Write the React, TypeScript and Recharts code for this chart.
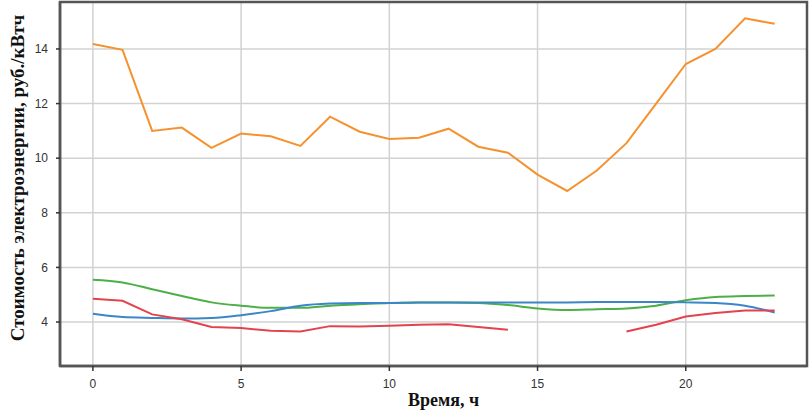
import React from "react"
import { LineChart, Line, XAxis, YAxis, CartesianGrid, ReferenceArea } from "recharts"

const hours = [0, 1, 2, 3, 4, 5, 6, 7, 8, 9, 10, 11, 12, 13, 14, 15, 16, 17, 18, 19, 20, 21, 22, 23]

const orange = [14.18, 13.97, 11.0, 11.12, 10.38, 10.9, 10.8, 10.45, 11.52, 10.97, 10.7, 10.75, 11.08, 10.42, 10.2, 9.4, 8.8, 9.55, 10.55, 12.0, 13.45, 14.0, 15.12, 14.92]
const green = [5.55, 5.45, 5.2, 4.95, 4.72, 4.6, 4.52, 4.52, 4.6, 4.65, 4.7, 4.72, 4.72, 4.7, 4.62, 4.5, 4.44, 4.47, 4.5, 4.6, 4.8, 4.92, 4.95, 4.97]
const blue = [4.3, 4.18, 4.15, 4.13, 4.15, 4.25, 4.4, 4.6, 4.68, 4.7, 4.7, 4.72, 4.72, 4.72, 4.72, 4.72, 4.72, 4.73, 4.73, 4.73, 4.72, 4.7, 4.6, 4.35]
const red = [4.85, 4.78, 4.28, 4.1, 3.82, 3.78, 3.68, 3.65, 3.85, 3.84, 3.86, 3.9, 3.92, 3.82, 3.72, null, null, null, 3.65, 3.9, 4.2, 4.33, 4.42, 4.42]

const xTicks = [0, 5, 10, 15, 20]
const yTicks = [4, 6, 8, 10, 12, 14]

const X_DOMAIN: [number, number] = [-1.11, 24.09]
const Y_DOMAIN: [number, number] = [2.39, 15.72]

const data = hours.map((h, i) => ({
  h,
  orange: orange[i],
  green: green[i],
  blue: blue[i],
  red: red[i],
}))

const tickStyle = { fontSize: 12, fill: "#333", fontFamily: "Liberation Sans, Arial, sans-serif" }
const titleFont = "Liberation Serif, Times New Roman, serif"
const frame = { stroke: "#555", strokeWidth: 2.5 }

function YTitle(props: any) {
  const vb = props.viewBox || { x: 0, y: 0, width: 60, height: 364 }
  const cx = vb.x + 17
  const cy = vb.y + vb.height / 2 - 6
  return (
    <text
      x={cx}
      y={cy}
      transform={`rotate(-90 ${cx} ${cy})`}
      textAnchor="middle"
      dominantBaseline="central"
      fontFamily={titleFont}
      fontWeight="bold"
      fontSize={19}
      fill="#111"
    >
      Стоимость электроэнергии, руб./кВтч
    </text>
  )
}

function XTitle(props: any) {
  const vb = props.viewBox || { x: 60, y: 366, width: 746, height: 50 }
  const cx = vb.x + vb.width / 2 + 10
  const cy = vb.y + 34
  return (
    <text
      x={cx}
      y={cy}
      textAnchor="middle"
      dominantBaseline="central"
      fontFamily={titleFont}
      fontWeight="bold"
      fontSize={18}
      fill="#111"
    >
      Время, ч
    </text>
  )
}

export default function App() {
  return (
    <div style={{ background: "#fff", width: 811, height: 416 }}>
      <style>{`body { margin: 0; }`}</style>
      <LineChart width={811} height={416} data={data} margin={{ top: 2, right: 4, bottom: 0, left: 0 }}>
        <CartesianGrid stroke="#d2d2d2" strokeWidth={1.5} horizontalValues={yTicks} verticalValues={xTicks} />
        <XAxis
          dataKey="h"
          type="number"
          domain={X_DOMAIN}
          ticks={xTicks}
          allowDataOverflow
          height={50}
          tickSize={5}
          tickMargin={8}
          tick={tickStyle}
          axisLine={frame}
          tickLine={{ stroke: "#333", strokeWidth: 1.5 }}
          label={<XTitle />}
        />
        <YAxis
          type="number"
          domain={Y_DOMAIN}
          ticks={yTicks}
          allowDataOverflow
          width={60}
          tickSize={4}
          tickMargin={8}
          tick={tickStyle}
          axisLine={frame}
          tickLine={{ stroke: "#333", strokeWidth: 1.5 }}
          label={<YTitle />}
        />
        <ReferenceArea
          x1={X_DOMAIN[0]}
          x2={X_DOMAIN[1]}
          y1={Y_DOMAIN[0]}
          y2={Y_DOMAIN[1]}
          fill="none"
          fillOpacity={0}
          stroke="#555"
          strokeWidth={2.5}
          ifOverflow="visible"
        />
        <Line type="linear" dataKey="orange" stroke="#f5922f" strokeWidth={2} dot={false} isAnimationActive={false} />
        <Line type="monotone" dataKey="green" stroke="#4caf47" strokeWidth={2} dot={false} isAnimationActive={false} />
        <Line type="monotone" dataKey="blue" stroke="#3b86c6" strokeWidth={2} dot={false} isAnimationActive={false} />
        <Line type="linear" dataKey="red" stroke="#e3434f" strokeWidth={2} dot={false} isAnimationActive={false} />
      </LineChart>
    </div>
  )
}
